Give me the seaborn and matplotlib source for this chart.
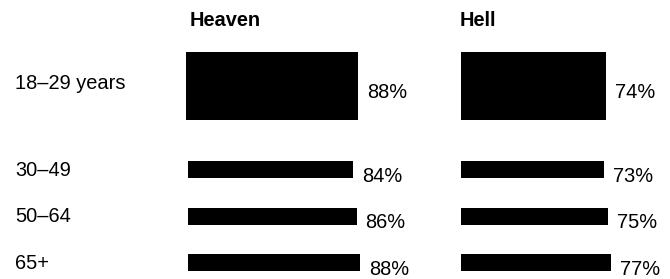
import matplotlib
matplotlib.use("Agg")
import matplotlib.pyplot as plt
import matplotlib.transforms as mtransforms
import seaborn as sns
import pandas as pd

# ---- data ----
ages = ["18–29 years", "30–49", "50–64", "65+"]
heaven = [88, 84, 86, 88]
hell = [74, 73, 75, 77]
panels = ["Heaven", "Hell"]

df = pd.DataFrame({"age": ages, "Heaven": heaven, "Hell": hell})

sns.set_theme(style="white")
plt.rcParams["font.family"] = ["Liberation Sans", "DejaVu Sans"]
FS = 14.4

W, H = 670, 279
fig = plt.figure(figsize=(W / 100, H / 100), dpi=100)
fig.patch.set_facecolor("white")


def add_ax(x0, y_top, w, h):
    return fig.add_axes([x0 / W, 1 - (y_top + h) / H, w / W, h / H])


PX = 1 / 100 * 72  # points per pixel
lefts = {"Heaven": (186, 188), "Hell": (460.5, 460.5)}
title_x = {"Heaven": 190, "Hell": 460}
scale_w = 196  # pixels for 100 %

for i, panel in enumerate(panels):
    top_left, bot_left = lefts[panel]
    ax_top = add_ax(top_left, 52, scale_w, 68)
    ax_bot = add_ax(bot_left, 146.5, scale_w, 132.5)

    sns.barplot(data=df.iloc[:1], x=panel, y="age", orient="h", ax=ax_top,
                color="black", saturation=1, width=1.0, linewidth=0)
    sns.barplot(data=df.iloc[1:], x=panel, y="age", orient="h", ax=ax_bot,
                color="black", saturation=1, width=0.366, linewidth=0)
    ax_bot.set_ylim(2.349, -0.5)

    for ax, left, lift in ((ax_top, top_left, 4.5), (ax_bot, bot_left, 1.5)):
        ax.set_xlim(0, 100)
        ax.set_xlabel("")
        ax.set_ylabel("")
        ax.set_xticks([])
        for s in ax.spines.values():
            s.set_visible(False)
        ax.set_facecolor("none")
        if i == 0:
            ax.tick_params(axis="y", length=0, pad=(left - 15) * PX,
                           labelsize=FS, labelcolor="black")
            shift = mtransforms.ScaledTranslation(0, lift / 100, fig.dpi_scale_trans)
            for lbl in ax.get_yticklabels():
                lbl.set_ha("left")
                lbl.set_transform(lbl.get_transform() + shift)
        else:
            ax.set_yticks([])
        anns = ax.bar_label(ax.containers[0], fmt="%d%%", padding=6,
                            fontsize=FS, color="black")
        for a in anns:
            a.xyann = (6.5, -4.5)

    fig.text(title_x[panel] / W, 1 - 26 / H, panel, fontsize=FS,
             fontweight="bold", ha="left", va="baseline", color="black")

fig.savefig("out.png", dpi=100, facecolor="white")
